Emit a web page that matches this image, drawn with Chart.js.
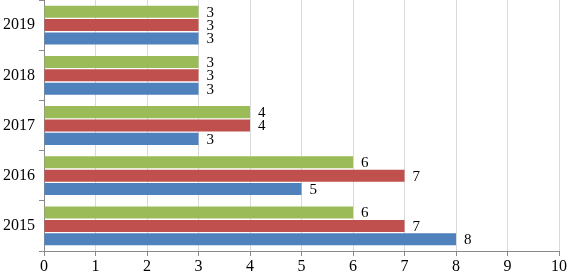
<!DOCTYPE html>
<html>
<head>
<meta charset="utf-8">
<script src="https://cdn.jsdelivr.net/npm/chart.js@4/dist/chart.umd.min.js"></script>
<style>
    html, body { margin: 0; padding: 0; background: #fff; }
    #wrap { width: 567px; height: 275px; }
</style>
</head>
<body>
<div id="wrap"><canvas id="grafico"></canvas></div>
<script>
const anios = ["2019", "2018", "2017", "2016", "2015"];
const serieVerde = [3, 3, 4, 6, 6];
const serieRoja = [3, 3, 4, 7, 7];
const serieAzul = [3, 3, 3, 5, 8];
const ticksX = [0, 1, 2, 3, 4, 5, 6, 7, 8, 9, 10];

const fuente = "'Liberation Serif', 'Times New Roman', serif";

// etiquetas de valor al final de cada barra
const etiquetas = {
    id: "etiquetas",
    afterDatasetsDraw(chart) {
        const ctx = chart.ctx;
        ctx.save();
        ctx.font = "15px " + fuente;
        ctx.fillStyle = "#000";
        ctx.textBaseline = "middle";
        ctx.textAlign = "left";
        chart.data.datasets.forEach((ds, i) => {
            chart.getDatasetMeta(i).data.forEach((bar, j) => {
                ctx.fillText(ds.data[j], bar.x + 8, bar.y + 1);
            });
        });
        ctx.restore();
    },
};

const dataGrafico = {
    labels: anios,
    datasets: [
        { label: "Serie 3", backgroundColor: "#9BBB59", data: serieVerde },
        { label: "Serie 2", backgroundColor: "#C0504D", data: serieRoja },
        { label: "Serie 1", backgroundColor: "#4F81BD", data: serieAzul },
    ],
};

const configGrafico = {
    type: "bar",
    data: dataGrafico,
    plugins: [etiquetas],
    options: {
        indexAxis: "y",
        responsive: true,
        maintainAspectRatio: false,
        animation: false,
        datasets: {
            bar: { categoryPercentage: 0.8, barPercentage: 0.9 },
        },
        layout: { padding: { top: 0, right: 8, left: 0, bottom: 0 } },
        plugins: {
            legend: { display: false },
            tooltip: { enabled: false },
        },
        scales: {
            x: {
                min: 0,
                max: 10,
                afterBuildTicks: (eje) => {
                    eje.ticks = ticksX.map((v) => ({ value: v }));
                },
                afterFit: (eje) => {
                    eje.height = 24;
                    eje.paddingLeft = 0;
                    eje.paddingRight = 0;
                },
                border: { color: "#8a8a8a", width: 1 },
                grid: {
                    color: "#d9d9d9",
                    tickColor: "#8a8a8a",
                    tickLength: 5,
                },
                ticks: {
                    color: "#000",
                    padding: 1,
                    font: { family: fuente, size: 16 },
                },
            },
            y: {
                afterFit: (eje) => {
                    eje.width = 44;
                    eje.paddingTop = 0;
                    eje.paddingBottom = 0;
                },
                border: { color: "#8a8a8a", width: 1 },
                grid: {
                    drawOnChartArea: false,
                    tickColor: "#8a8a8a",
                    tickLength: 5,
                },
                ticks: {
                    color: "#000",
                    padding: 4,
                    font: { family: fuente, size: 16 },
                },
            },
        },
    },
};

const grafico = new Chart(document.getElementById("grafico"), configGrafico);
</script>
</body>
</html>
